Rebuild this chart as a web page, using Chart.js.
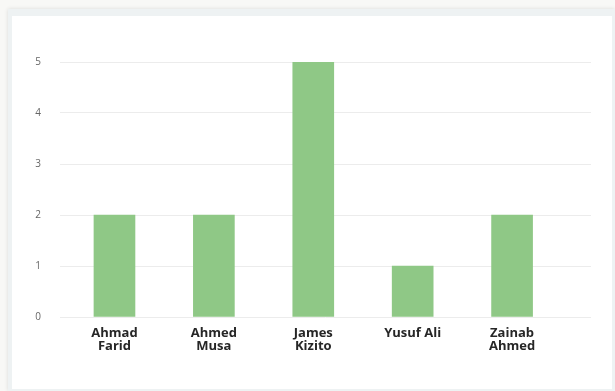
<!DOCTYPE html>
<html>
<head>
<meta charset="utf-8">
<script src="https://cdn.jsdelivr.net/npm/chart.js@4"></script>
<style>
  html, body { margin: 0; padding: 0; }
  body { width: 615px; height: 391px; background: #f8f8f6; position: relative; overflow: hidden; }
  .frame { position: absolute; left: 8px; top: 9px; width: 607px; height: 382px; background: #eef2f3; box-shadow: 0 0 4px rgba(0,0,0,0.12); }
  .card { position: absolute; left: 12px; top: 16px; width: 600px; height: 373px; background: #fff; }
  canvas { display: block; }
</style>
</head>
<body>
<div class="frame"></div>
<div class="card"><canvas id="chart" width="600" height="373"></canvas></div>
<script>
const names = [['Ahmad', 'Farid'], ['Ahmed', 'Musa'], ['James', 'Kizito'], ['Yusuf Ali'], ['Zainab', 'Ahmed']];
const counts = [2, 2, 5, 1, 2];
const yTicks = [0, 1, 2, 3, 4, 5];

document.addEventListener('DOMContentLoaded', () => {
  const canvas = document.getElementById('chart');

  // one point per person, placed at its index on the x scale
  const points = names.map((n, i) => ({ x: i, y: counts[i] }));

  new Chart(canvas, {
    type: 'bar',
    data: {
      datasets: [{
        data: points,
        backgroundColor: '#8fc886',
        borderWidth: 0,
        barThickness: 41,
      }],
    },
    options: {
      responsive: false,
      animation: false,
      layout: { padding: { top: 46, right: 21, left: 0, bottom: 0 } },
      plugins: { legend: { display: false }, tooltip: { enabled: false } },
      scales: {
        x: {
          type: 'linear',
          offset: false,
          min: -0.548,
          max: 4.794,
          grid: { display: false },
          border: { display: false },
          afterBuildTicks: (axis) => { axis.ticks = names.map((n, i) => ({ value: i })); },
          afterFit: (axis) => { axis.height = 72; },
          ticks: {
            padding: 1,
            maxRotation: 0,
            autoSkip: false,
            color: '#262626',
            font: { family: 'Open Sans', size: 13, weight: 'bold', lineHeight: 1.05 },
            callback: (v) => names[v] || '',
          },
        },
        y: {
          min: 0,
          max: 5,
          grid: { color: '#ececec', drawTicks: false },
          border: { display: false },
          afterBuildTicks: (axis) => { axis.ticks = yTicks.map(v => ({ value: v })); },
          afterFit: (axis) => { axis.width = 48; },
          ticks: {
            padding: 19,
            color: '#666',
            font: { family: 'Open Sans', size: 10 },
          },
        },
      },
    },
  });
});
</script>
</body>
</html>
